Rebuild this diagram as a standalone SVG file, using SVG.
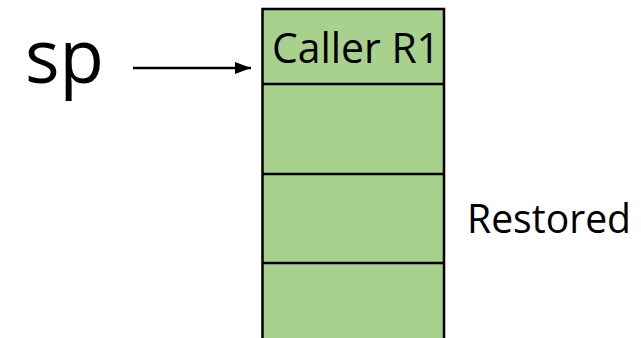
<svg xmlns="http://www.w3.org/2000/svg" width="641" height="338" viewBox="0 0 641 338">
<style>
.cell{fill:#A9D18E;stroke:none}
.ln{stroke:#000;stroke-width:2.5;fill:none}
.t{font-family:"Open Sans","Liberation Sans",sans-serif;fill:#000}
</style>
<defs>
<marker id="ah" markerWidth="16" markerHeight="12" refX="16" refY="6" orient="auto" markerUnits="userSpaceOnUse">
<path d="M0,0 L16,6 L0,12 Z" fill="#000"/>
</marker>
</defs>
<rect width="641" height="338" fill="#fff"/>
<g id="stack">
<rect class="cell" x="262.5" y="9" width="181.5" height="75"/>
<rect class="cell" x="262.5" y="84" width="181.5" height="90"/>
<rect class="cell" x="262.5" y="174" width="181.5" height="89"/>
<rect class="cell" x="262.5" y="263" width="181.5" height="80"/>
<path class="ln" d="M262.5,345 V9 H444 V345 M262.5,84 H444 M262.5,174 H444 M262.5,263 H444"/>
<text class="t" x="272" y="63" font-size="42" textLength="168" lengthAdjust="spacingAndGlyphs">Caller R1</text>
</g>
<g id="sp">
<text class="t" x="25" y="83" font-size="75" textLength="79" lengthAdjust="spacingAndGlyphs">sp</text>
</g>
<g id="restored">
<text class="t" x="467" y="233" font-size="40" textLength="164" lengthAdjust="spacingAndGlyphs">Restored</text>
</g>
<g id="connectors">
<line x1="133" y1="68" x2="251" y2="68" stroke="#000" stroke-width="2.5" marker-end="url(#ah)"/>
</g>
</svg>
